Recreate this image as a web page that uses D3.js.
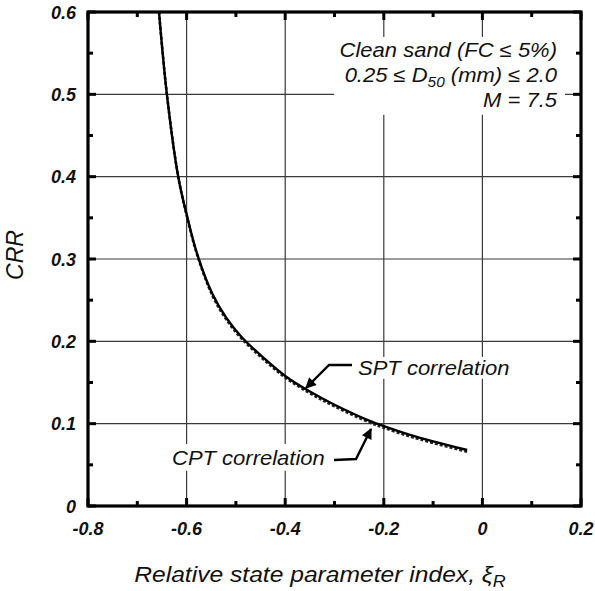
<!DOCTYPE html>
<html>
<head>
<meta charset="utf-8">
<script src="https://cdn.jsdelivr.net/npm/d3@7"></script>
<style>
  html, body { margin: 0; padding: 0; background: #fff; }
  svg { display: block; }
  text { font-family: "Liberation Sans", Arial, sans-serif; font-style: italic; fill: #111; }
</style>
</head>
<body>
<svg id="chart" width="595" height="591"></svg>
<script>
// ---- data ----
const xiValues = [-0.656, -0.640, -0.617, -0.599, -0.578, -0.548, -0.520, -0.488, -0.444, -0.400, -0.350, -0.300, -0.227, -0.200, -0.150, -0.100, -0.031];
const cptCRR   = [0.600, 0.500, 0.400, 0.352, 0.305, 0.258, 0.229, 0.205, 0.180, 0.158, 0.139, 0.123, 0.103, 0.097, 0.087, 0.0785, 0.068];
const sptCRR   = [0.600, 0.500, 0.400, 0.351, 0.304, 0.256, 0.227, 0.203, 0.178, 0.156, 0.137, 0.121, 0.101, 0.095, 0.085, 0.0765, 0.066];
const xTicks = [-0.8, -0.6, -0.4, -0.2, 0, 0.2];
const xTickLabels = ["-0.8", "-0.6", "-0.4", "-0.2", "0", "0.2"];
const xMinor = [-0.7, -0.5, -0.3, -0.1, 0.1];
const yTicks = [0, 0.1, 0.2, 0.3, 0.4, 0.5, 0.6];
const yTickLabels = ["0", "0.1", "0.2", "0.3", "0.4", "0.5", "0.6"];
const yMinor = [0.05, 0.15, 0.25, 0.35, 0.45, 0.55];
const annotationLines = ["Clean sand (FC \u2264 5%)", "0.25 \u2264 D", "50", " (mm) \u2264 2.0", "M = 7.5"];

const svg = d3.select("#chart");
const L = 88, R = 581, T = 12, B = 506;
const x = d3.scaleLinear().domain([-0.8, 0.2]).range([L, R]);
const y = d3.scaleLinear().domain([0, 0.6]).range([B, T]);

// grid
const grid = svg.append("g");
grid.selectAll(".gx").data(xTicks.slice(1, -1)).enter().append("line")
  .attr("x1", d => x(d)).attr("x2", d => x(d)).attr("y1", T).attr("y2", B)
  .attr("stroke", "#3a3a3a").attr("stroke-width", 1.2);
grid.selectAll(".gy").data(yTicks.slice(1, -1)).enter().append("line")
  .attr("x1", L).attr("x2", R).attr("y1", d => y(d)).attr("y2", d => y(d))
  .attr("stroke", "#3a3a3a").attr("stroke-width", 1.2);

// labels with white masks, horizontally stretched slightly
function label(tx, ty, sx, anchor, size, build, pad) {
  const g = svg.append("g").attr("transform", `translate(${tx},${ty}) scale(${sx},1)`);
  const t = g.append("text").attr("text-anchor", anchor).attr("font-size", size);
  build(t);
  const b = t.node().getBBox();
  g.insert("rect", "text").attr("x", b.x - pad[0]).attr("y", b.y - pad[2])
    .attr("width", b.width + pad[0] + pad[1]).attr("height", b.height + pad[2] + pad[3]).attr("fill", "#fff");
  return g;
}
label(557, 57, 1.1, "end", 20, t => {
  t.append("tspan").attr("x", 0).attr("y", 0).text(annotationLines[0]);
  const l2 = t.append("tspan").attr("x", 0).attr("y", 25);
  l2.append("tspan").text(annotationLines[1]);
  l2.append("tspan").attr("font-size", 14).attr("dy", 5).text(annotationLines[2]);
  l2.append("tspan").attr("dy", -5).text(annotationLines[3]);
  t.append("tspan").attr("x", 0).attr("y", 50).text(annotationLines[4]);
}, [5, 7, 2, 4]);
label(358, 375, 1.1, "start", 20, t => t.text("SPT correlation"), [3, 3, 0, 0]);
label(172, 465, 1.1, "start", 20, t => t.text("CPT correlation"), [3, 3, 3, 2]);

// curves
const line = d3.line().x(d => x(d[0])).y(d => y(d[1])).curve(d3.curveCatmullRom.alpha(0.5));
svg.append("path").datum(xiValues.map((v, i) => [v, sptCRR[i]]))
  .attr("d", line).attr("fill", "none").attr("stroke", "#222")
  .attr("stroke-width", 2.6).attr("stroke-dasharray", "3,2");
svg.append("path").datum(xiValues.map((v, i) => [v, cptCRR[i]]))
  .attr("d", line).attr("fill", "none").attr("stroke", "#000").attr("stroke-width", 2.4);

// arrows
const defs = svg.append("defs");
defs.append("marker").attr("id", "ah").attr("viewBox", "0 0 10 10").attr("refX", 9).attr("refY", 5)
  .attr("markerWidth", 5.5).attr("markerHeight", 4.5).attr("orient", "auto").attr("markerUnits", "strokeWidth")
  .append("path").attr("d", "M0,0 L10,5 L0,10 z").attr("fill", "#000");
svg.append("path").attr("d", "M352,365 L329,365 L306,388")
  .attr("fill", "none").attr("stroke", "#000").attr("stroke-width", 2.4).attr("marker-end", "url(#ah)");
svg.append("path").attr("d", "M334,460 L356,459 L371,429")
  .attr("fill", "none").attr("stroke", "#000").attr("stroke-width", 2.4).attr("marker-end", "url(#ah)");

// ticks (inward, all sides)
const tk = svg.append("g").attr("stroke", "#000").attr("stroke-width", 3);
xTicks.forEach(v => {
  tk.append("line").attr("x1", x(v)).attr("x2", x(v)).attr("y1", B).attr("y2", B - 8);
  tk.append("line").attr("x1", x(v)).attr("x2", x(v)).attr("y1", T).attr("y2", T + 8);
});
xMinor.forEach(v => {
  tk.append("line").attr("x1", x(v)).attr("x2", x(v)).attr("y1", B).attr("y2", B - 5);
  tk.append("line").attr("x1", x(v)).attr("x2", x(v)).attr("y1", T).attr("y2", T + 5);
});
yTicks.forEach(v => {
  tk.append("line").attr("x1", L).attr("x2", L + 8).attr("y1", y(v)).attr("y2", y(v));
  tk.append("line").attr("x1", R).attr("x2", R - 8).attr("y1", y(v)).attr("y2", y(v));
});
yMinor.forEach(v => {
  tk.append("line").attr("x1", L).attr("x2", L + 5).attr("y1", y(v)).attr("y2", y(v));
  tk.append("line").attr("x1", R).attr("x2", R - 5).attr("y1", y(v)).attr("y2", y(v));
});

// frame
svg.append("rect").attr("x", L).attr("y", T).attr("width", R - L).attr("height", B - T)
  .attr("fill", "none").attr("stroke", "#000").attr("stroke-width", 3.2);

// tick labels
svg.selectAll(".xl").data(xTicks).enter().append("text")
  .attr("x", d => x(d)).attr("y", 535).attr("text-anchor", "middle").attr("font-size", 18)
  .attr("font-weight", "bold").text((d, i) => xTickLabels[i]);
svg.selectAll(".yl").data(yTicks).enter().append("text")
  .attr("x", 76).attr("y", d => y(d) + 6.5).attr("text-anchor", "end").attr("font-size", 18)
  .attr("font-weight", "bold").text((d, i) => yTickLabels[i]);

// axis titles
const xt = svg.append("g").attr("transform", "translate(320,582) scale(1.12,1)")
  .append("text").attr("text-anchor", "middle").attr("font-size", 22);
xt.append("tspan").text("Relative state parameter index, \u03BE");
xt.append("tspan").attr("font-size", 16).attr("dy", 5).text("R");
svg.append("text").attr("transform", "translate(23,255) rotate(-90)").attr("text-anchor", "middle")
  .attr("font-size", 23).text("CRR");
</script>
</body>
</html>
